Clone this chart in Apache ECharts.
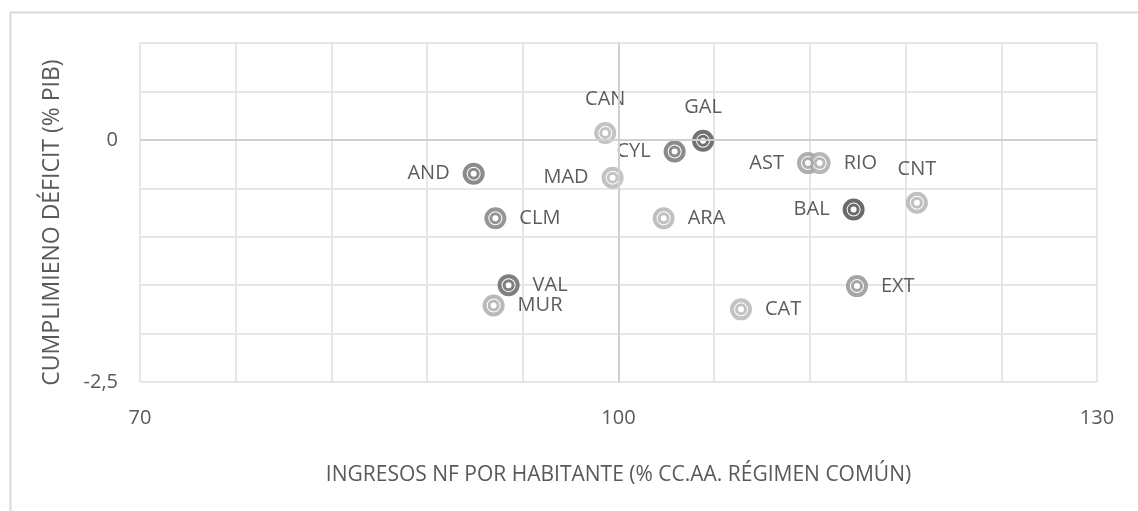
<!DOCTYPE html>
<html>
<head>
<meta charset="utf-8">
<script src="https://cdn.jsdelivr.net/npm/echarts@6/dist/echarts.min.js"></script>
<style>
html,body{margin:0;padding:0;background:#fff;}
#chart{width:1138px;height:511px;}
</style>
</head>
<body>
<div id="chart"></div>
<script>
// ---- data ----
const regions = ['CAN','GAL','CYL','AND','MAD','AST','RIO','CNT','BAL','CLM','ARA','VAL','MUR','CAT','EXT'];
const ingresos = [99.17,105.30,103.52,90.92,99.63,111.88,112.61,118.71,114.74,92.28,102.83,93.11,92.17,107.68,114.95];
const deficit  = [0.07,-0.01,-0.12,-0.35,-0.39,-0.24,-0.24,-0.65,-0.72,-0.81,-0.81,-1.50,-1.71,-1.75,-1.51];
const xTickLabels = ['70','','','','','100','','','','','130'];
const yLabelValues = [0, -2.5];

// ---- styles (kept apart from data) ----
const markerColors = ['#b4b4b4','#4f4f4f','#6e6e6e','#6e6e6e','#b4b4b4','#9a9a9a','#a6a6a6','#b0b0b0','#454545','#7a7a7a','#b0b0b0','#5f5f5f','#a8a8a8','#b4b4b4','#8e8e8e'];
const labelPos = ['top','top','left','left','left','left','right','top','left','right','right','right','right','right','right'];

const chart = echarts.init(document.getElementById('chart'));
const font = "'Open Sans', sans-serif";

const outerData = regions.map((r,i)=>({
  name:r, value:[ingresos[i], deficit[i]],
  itemStyle:{color:'#fff', borderColor:markerColors[i], borderWidth:4},
  label:{position:labelPos[i]}
}));
const innerData = regions.map((r,i)=>({
  name:r, value:[ingresos[i], deficit[i]],
  itemStyle:{color:'#fff', borderColor:markerColors[i], borderWidth:3}
}));

chart.setOption({
  backgroundColor:'#fff',
  animation:false,
  graphic:[{
    type:'rect', left:8, top:10, shape:{width:1200, height:600},
    style:{fill:'none', stroke:'#d9d9d9', lineWidth:2}, silent:true, z:-1
  }],
  grid:{left:140, right:41, top:43, bottom:129, show:true, borderColor:'#d9d9d9', borderWidth:1},
  xAxis:[{
    type:'category', data:xTickLabels, boundaryGap:false, position:'bottom',
    axisLine:{show:false}, axisTick:{show:false},
    axisLabel:{interval:0, color:'#595959', fontFamily:font, fontSize:20, margin:26},
    splitLine:{show:true, interval:0, lineStyle:{color:'#e6e6e6', width:2}},
    name:'INGRESOS NF POR HABITANTE (% CC.AA. RÉGIMEN COMÚN)',
    nameLocation:'middle', nameGap:83,
    nameTextStyle:{color:'#595959', fontFamily:font, fontSize:21}
  },{
    type:'value', min:70, max:130, show:false
  }],
  yAxis:{
    type:'value', min:-2.5, max:1, interval:0.5,
    axisLine:{show:false}, axisTick:{show:false},
    axisLabel:{color:'#595959', fontFamily:font, fontSize:20, margin:22,
      formatter:v=> yLabelValues.indexOf(Math.round(v*10)/10)>=0 ? String(v).replace('.',',') : ''},
    splitLine:{show:true, lineStyle:{color:'#e6e6e6', width:2}},
    name:'CUMPLIMIENO DÉFICIT (% PIB)', nameLocation:'middle', nameGap:76,
    nameTextStyle:{color:'#595959', fontFamily:font, fontSize:23, padding:[0,20,0,0]}
  },
  series:[{
    type:'scatter', xAxisIndex:1, data:[], 
    markLine:{silent:true, symbol:'none', label:{show:false},
      lineStyle:{color:'#d0d0d0', width:2, type:'solid'},
      data:[{xAxis:100},{yAxis:0}]}
  },{
    type:'scatter', xAxisIndex:1, symbol:'circle', symbolSize:18, z:3,
    data:outerData,
    label:{show:true, formatter:'{b}', color:'#333333', fontFamily:font, fontSize:20, distance:13}
  },{
    type:'scatter', xAxisIndex:1, symbol:'circle', symbolSize:9, z:4,
    data:innerData, label:{show:false}
  }]
});
</script>
</body>
</html>
